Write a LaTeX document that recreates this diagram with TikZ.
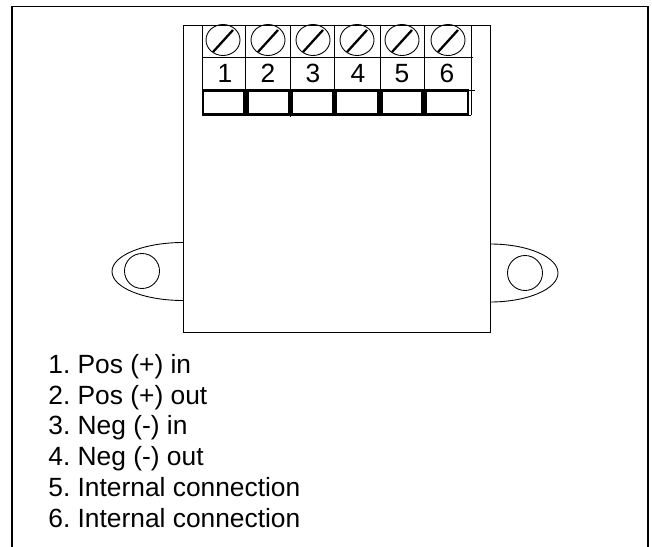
\documentclass[tikz,border=0pt]{standalone}
\usepackage{fontspec}
\setmainfont{Liberation Sans}
\frenchspacing
\tikzset{
	frameline/.style={line width=1.1pt},
	thinline/.style={line width=0.5pt},
	termbox/.style={line width=1.5pt},
	screwhead/.style={line width=0.5pt},
	screwslot/.style={line width=1.3pt},
	termlabel/.style={font=\fontsize{15}{18}\selectfont,anchor=base},
	listlabel/.style={font=\fontsize{15}{18}\selectfont,anchor=base west,inner sep=0pt}
}
\begin{document}
\begin{tikzpicture}[x=0.02cm,y=-0.02cm]
	\useasboundingbox (0,0) rectangle (652,547);
	\draw[frameline](12,547)--(12,6.5)--(648,6.5)--(648,547);

	\draw[thinline](183,25) rectangle (490,332);
	\draw[thinline](183,242.5) arc[start angle=90,end angle=270,x radius=71,y radius=-29];
	\draw[thinline](490,244) arc[start angle=90,end angle=-90,x radius=68,y radius=-29];
	\draw[thinline](142,271) circle (17.5);
	\draw[thinline](525,273) circle (17.5);

	\draw[thinline](202,25)--(202,115);
	\draw[thinline](245,25)--(245,115);
	\draw[thinline](290,25)--(290,117);
	\draw[thinline](334,25)--(334,115);
	\draw[thinline](380,25)--(380,115);
	\draw[thinline](424,25)--(424,115);
	\draw[thinline](471,25)--(471,115);
	\draw[thinline](202,57)--(473,57);
	\draw[thinline](202,90)--(475,90);
	\draw[thinline](202,115)--(471,115);

	\draw[termbox](203,90.5) rectangle (244.5,114);
	\draw[termbox](247.5,90.5) rectangle (289,114);
	\draw[termbox](292,90.5) rectangle (333,114);
	\draw[termbox](336,90.5) rectangle (378.5,114);
	\draw[termbox](381.5,90.5) rectangle (422.5,114);
	\draw[termbox](426,90.5) rectangle (468,114);

	\draw[screwhead](223,40) ellipse (17 and 15.5);
	\draw[screwhead](268,40) ellipse (17 and 15.5);
	\draw[screwhead](313,40) ellipse (17 and 15.5);
	\draw[screwhead](357,40) ellipse (17 and 15.5);
	\draw[screwhead](402,40) ellipse (17 and 15.5);
	\draw[screwhead](448,40) ellipse (17 and 15.5);
	\draw[screwslot](213,52)--(233,30);
	\draw[screwslot](258,52)--(278,30);
	\draw[screwslot](303,52)--(323,30);
	\draw[screwslot](347,52)--(367,30);
	\draw[screwslot](392,52)--(412,30);
	\draw[screwslot](438,52)--(458,30);

	\node[termlabel] (t1) at (225,83) {1};
	\node[termlabel] (t2) at (268,83) {2};
	\node[termlabel] (t3) at (313,83) {3};
	\node[termlabel] (t4) at (358,83) {4};
	\node[termlabel] (t5) at (402,83) {5};
	\node[termlabel] (t6) at (447,83) {6};

	\node[listlabel] (l1) at (48,373) {1. Pos (+) in};
	\node[listlabel] (l2) at (48,404) {2. Pos (+) out};
	\node[listlabel] (l3) at (48,434) {3. Neg (-) in};
	\node[listlabel] (l4) at (48,465) {4. Neg (-) out};
	\node[listlabel] (l5) at (48,496) {5. Internal connection};
	\node[listlabel] (l6) at (48,527) {6. Internal connection};
\end{tikzpicture}
\end{document}
